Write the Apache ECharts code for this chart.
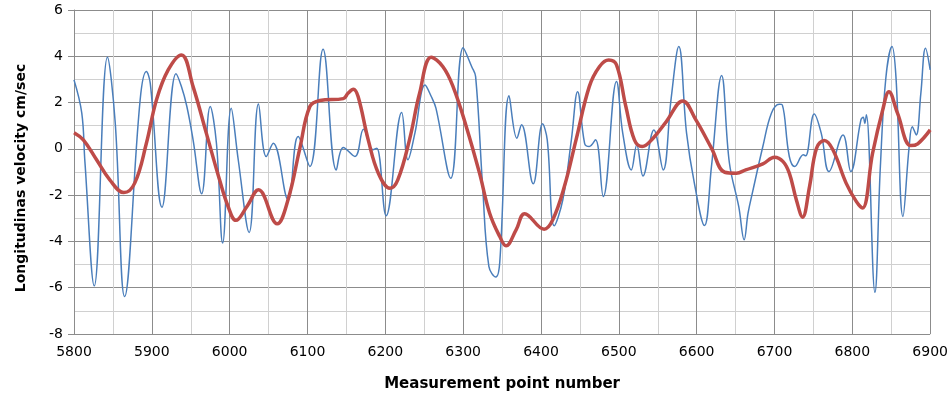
<!DOCTYPE html>
<html>
<head>
<meta charset="utf-8">
<script src="https://cdn.jsdelivr.net/npm/echarts@6/dist/echarts.min.js"></script>
<style>
  html, body { margin: 0; padding: 0; background: #fff; }
  #main { width: 951px; height: 397px; }
</style>
</head>
<body>
<div id="main"></div>
<script>
// measured velocity (thin blue)
var blueX = [5800, 5810, 5814, 5826, 5843, 5853, 5865, 5885, 5893, 5898, 5913, 5931, 5938, 5945, 5953, 5964, 5975, 5983, 5991,
  6002, 6011, 6025, 6037, 6047, 6056, 6075, 6088, 6103, 6120, 6137, 6146, 6161, 6172, 6184, 6189, 6201, 6221, 6229, 6238,
  6251, 6259, 6265, 6284, 6300, 6311, 6316, 6325, 6333, 6342, 6347, 6359, 6369, 6375, 6390, 6402, 6408, 6417, 6428, 6439,
  6447, 6456, 6462, 6470, 6480, 6497, 6505, 6516, 6523, 6531, 6545, 6557, 6567, 6577, 6587, 6597, 6610, 6619, 6632, 6642,
  6654, 6661, 6666, 6672, 6685, 6696, 6706, 6710, 6719, 6726, 6737, 6740, 6751, 6760, 6770, 6788, 6798, 6811, 6814, 6816,
  6818, 6829, 6836, 6843, 6851, 6856, 6865, 6873, 6877, 6882, 6888, 6894, 6900]
var blueY = [2.98, 1.54, -0.55, -5.92, 3.96, 1.11, -6.38, 2.12, 3.34, 2.83, -2.52, 3.24, 2.69, 1.83, 0.39, -1.94, 1.83, 0.24, -4.07,
  1.76, -0.47, -3.61, 1.94, -0.33, 0.24, -2.2, 0.53, -0.76, 4.3, -0.91, 0.06, -0.33, 0.85, -0.04, 0.03, -2.89, 1.57, -0.47, 0.68,
  2.76, 2.26, 1.76, -1.27, 4.37, 3.55, 3.12, -1.63, -5.08, -5.54, -4.9, 2.29, 0.46, 1.04, -1.51, 1.08, 0.39, -3.32, -2.2, 0.39,
  2.47, 0.24, 0.1, 0.39, -2.06, 2.91, 0.68, -0.91, 0.17, -1.17, 0.82, -0.91, 2.12, 4.42, 0.68, -1.48, -3.31, -0.76, 3.17, -0.6,
  -2.49, -3.93, -2.78, -1.84, 0.1, 1.54, 1.93, 1.9, -0.33, -0.76, -0.26, -0.3, 1.51, 0.68, -0.98, 0.6, -0.98, 1.25, 1.37, 1.1,
  1.47, -6.2, -0.76, 3.05, 4.42, 3.12, -2.92, 0.1, 0.96, 0.6, 2.4, 4.35, 3.41]

// smoothed velocity (thick red)
var redX = [5800, 5812, 5829, 5846, 5864, 5878, 5893, 5906, 5921, 5938, 5953, 5970, 5987, 5998, 6008, 6022, 6037, 6061, 6075,
  6090, 6103, 6116, 6146, 6152, 6159, 6165, 6178, 6191, 6206, 6216, 6231, 6244, 6259, 6274, 6287, 6304, 6321, 6334, 6347,
  6355, 6368, 6379, 6404, 6415, 6430, 6445, 6462, 6475, 6487, 6497, 6509, 6520, 6530, 6544, 6561, 6582, 6599, 6619, 6636,
  6651, 6663, 6685, 6700, 6711, 6719, 6728, 6736, 6745, 6754, 6764, 6775, 6792, 6805, 6813, 6826, 6839, 6847, 6858, 6875,
  6884, 6900]
var redY = [0.7, 0.39, -0.47, -1.34, -1.89, -1.48, 0.24, 2.12, 3.41, 4.06, 2.69, 0.68, -1.34, -2.49, -3.09, -2.5, -1.77, -3.24, -2.2,
  0.0, 1.83, 2.09, 2.17, 2.4, 2.58, 2.26, 0.39, -1.05, -1.7, -1.34, 0.39, 2.4, 3.96, 3.55, 2.69, 0.96, -1.05, -2.78, -3.79,
  -4.19, -3.5, -2.8, -3.47, -3.07, -1.63, 0.39, 2.69, 3.55, 3.84, 3.63, 1.83, 0.39, 0.1, 0.46, 1.18, 2.07, 1.25, 0.03, -1.01,
  -1.05, -0.91, -0.65, -0.36, -0.55, -1.05, -2.2, -2.95, -1.63, 0.03, 0.36, -0.04, -1.48, -2.27, -2.56, -0.19, 1.68, 2.47, 1.54, 0.14,
  0.22, 0.82]

function pairs (xs, ys) {
  return xs.map(function (x, i) { return [x, ys[i]] })
}

var font = 'DejaVu Sans'
var myChart = echarts.init(document.getElementById('main'))
myChart.setOption({
  animation: false,
  backgroundColor: '#fff',
  grid: {
    left: 74,
    right: 20,
    top: 10,
    bottom: 63
  },
  xAxis: {
    type: 'value',
    min: 5800,
    max: 6900,
    interval: 100,
    name: 'Measurement point number',
    nameLocation: 'middle',
    nameGap: 43,
    nameTextStyle: { fontFamily: font, fontSize: 15, fontWeight: 'bold', color: '#000' },
    axisLine: { show: true, lineStyle: { color: '#8c8c8c', width: 1 } },
    axisTick: { show: false },
    axisLabel: {
      fontFamily: font,
      fontSize: 14,
      color: '#000',
      margin: 11,
      formatter: function (v) { return String(v) }
    },
    splitLine: { show: true, lineStyle: { color: '#8c8c8c', width: 1 } },
    minorTick: { show: false, splitNumber: 2 },
    minorSplitLine: { show: true, lineStyle: { color: '#d0d0d0', width: 1 } }
  },
  yAxis: {
    type: 'value',
    min: -8,
    max: 6,
    interval: 2,
    name: 'Longitudinas velocity cm/sec',
    nameLocation: 'middle',
    nameGap: 46,
    nameTextStyle: { fontFamily: font, fontSize: 14, fontWeight: 'bold', color: '#000', padding: [0, 12, 0, 0] },
    axisLine: { show: true, lineStyle: { color: '#8c8c8c', width: 1 } },
    axisTick: { show: true, inside: false, length: 6, lineStyle: { color: '#8c8c8c' } },
    axisLabel: { fontFamily: font, fontSize: 14, color: '#000', margin: 11 },
    splitLine: { show: true, lineStyle: { color: '#8c8c8c', width: 1 } },
    minorTick: { show: false, splitNumber: 2 },
    minorSplitLine: { show: true, lineStyle: { color: '#d0d0d0', width: 1 } }
  },
  series: [
    {
      name: 'measured',
      type: 'line',
      data: pairs(blueX, blueY),
      smooth: 0.4,
      showSymbol: false,
      lineStyle: { color: '#4A7EBB', width: 1.5 },
      z: 2
    },
    {
      name: 'smoothed',
      type: 'line',
      data: pairs(redX, redY),
      smooth: 0.4,
      showSymbol: false,
      lineStyle: { color: '#BE4B48', width: 3.5 },
      z: 3
    }
  ]
})
</script>
</body>
</html>
